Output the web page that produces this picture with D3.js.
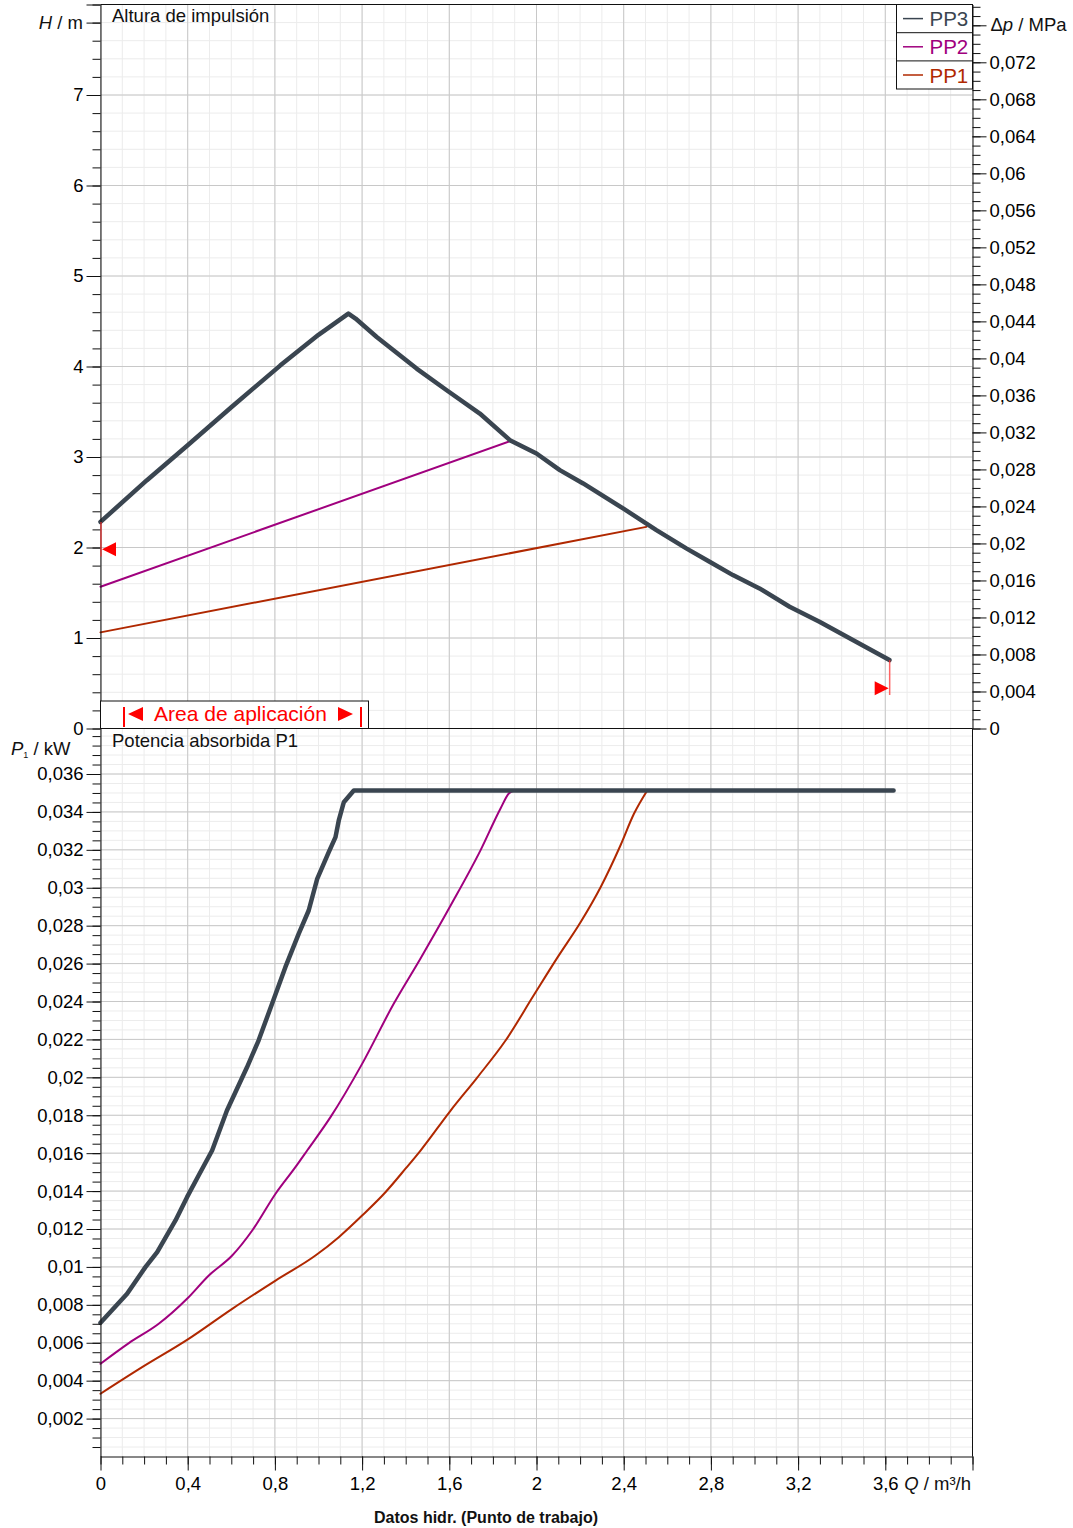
<!DOCTYPE html>
<html>
<head>
<meta charset="utf-8">
<script src="https://cdn.jsdelivr.net/npm/d3@7"></script>
<style>
  body { margin: 0; background: #fff; }
  svg { font-family: "Liberation Sans", Arial, sans-serif; }
</style>
</head>
<body>
<svg id="chart" width="1073" height="1528"></svg>
<script>
// --- data ---
const qTicks = [0, 0.4, 0.8, 1.2, 1.6, 2, 2.4, 2.8, 3.2, 3.6];
const hTicks = [0, 1, 2, 3, 4, 5, 6, 7];
const dpTicks = [0, 0.004, 0.008, 0.012, 0.016, 0.02, 0.024, 0.028, 0.032, 0.036,
  0.04, 0.044, 0.048, 0.052, 0.056, 0.06, 0.064, 0.068, 0.072];
const pTicks = [0.002, 0.004, 0.006, 0.008, 0.01, 0.012, 0.014, 0.016, 0.018, 0.02,
  0.022, 0.024, 0.026, 0.028, 0.03, 0.032, 0.034, 0.036];

const seriesNames = ['PP3', 'PP2', 'PP1'];
const seriesColors = ['#3a4550', '#a0007e', '#b02800'];

// head H (m) vs Q (m3/h)
const pp3Head = [[0, 2.283], [0.213, 2.744], [0.4, 3.13], [0.6, 3.55], [0.824, 4.01], [1.0, 4.35],
  [1.137, 4.585], [1.17, 4.53], [1.267, 4.326], [1.45, 3.977], [1.588, 3.738], [1.74, 3.48],
  [1.878, 3.186], [2.0, 3.039], [2.107, 2.855], [2.214, 2.708], [2.397, 2.432], [2.55, 2.192],
  [2.687, 1.99], [2.794, 1.842], [2.901, 1.695], [3.023, 1.548], [3.161, 1.345], [3.298, 1.179],
  [3.451, 0.977], [3.619, 0.756]];
const pp2Head = [[0, 1.566], [1.878, 3.175]];
const pp1Head = [[0, 1.062], [2.504, 2.228]];

// power P1 (kW) vs Q (m3/h)
const pp3Power = [[0, 0.00705], [0.122, 0.00858], [0.206, 0.00999], [0.26, 0.01078], [0.344, 0.01245],
  [0.397, 0.01368], [0.45, 0.01482], [0.512, 0.01614], [0.58, 0.01825], [0.672, 0.02053],
  [0.725, 0.02194], [0.787, 0.02388], [0.848, 0.02581], [0.909, 0.02757], [0.955, 0.0288],
  [0.994, 0.03047], [1.047, 0.03188], [1.078, 0.03267], [1.093, 0.03355], [1.116, 0.03451],
  [1.162, 0.03513], [3.638, 0.03513]];
const pp2Power = [[0, 0.00489], [0.13, 0.00598], [0.267, 0.007], [0.397, 0.00832], [0.497, 0.00955],
  [0.604, 0.0106], [0.696, 0.01192], [0.803, 0.01386], [0.894, 0.01526], [0.948, 0.01614],
  [1.055, 0.0179], [1.2, 0.02071], [1.345, 0.02388], [1.468, 0.02627], [1.606, 0.02906],
  [1.743, 0.03197], [1.835, 0.03418], [1.873, 0.03497], [1.896, 0.03513]];
const pp1Power = [[0, 0.00331], [0.191, 0.00471], [0.397, 0.00615], [0.604, 0.00779], [0.803, 0.00928],
  [0.986, 0.0106], [1.093, 0.01157], [1.2, 0.01271], [1.307, 0.01394], [1.399, 0.01518],
  [1.468, 0.01614], [1.606, 0.01825], [1.728, 0.01999], [1.858, 0.02194], [1.988, 0.02434],
  [2.095, 0.0263], [2.202, 0.02818], [2.294, 0.03003], [2.385, 0.03223], [2.447, 0.0339],
  [2.508, 0.03513]];

// application area limits: Q, marker H, line top H, line bottom H
const limitQ = [0, 3.62];
const limitH = [1.98, 0.444];
const limitTop = [2.283, 0.756];
const limitBottom = [1.9, 0.37];

const RHO_G = 0.009781; // MPa per m

// --- scales ---
const svg = d3.select('#chart');
const FONT = '"Liberation Sans", Arial, sans-serif';
const x = d3.scaleLinear().domain([0, 4]).range([100.5, 972.5]);
const yH = d3.scaleLinear().domain([0, 8]).range([728.5, 4.5]);
const yDp = d3.scaleLinear().domain([0, 8 * RHO_G]).range([728.5, 4.5]);
const yP = d3.scaleLinear().domain([0, 0.0384]).range([1456.5, 728.5]);

const fmt = (d) => String(+d.toFixed(4)).replace('.', ',');

const qMinor = d3.range(0, 41).map((i) => i / 10);
const hMinor = d3.range(0, 41).map((i) => +(i * 0.2).toFixed(2));
const dpMinor = d3.range(0, 79).map((i) => +(i * 0.001).toFixed(3));
const pMinor = d3.range(1, 77).map((i) => +(i * 0.0005).toFixed(4));

// --- grid ---
function grid(ys, minorY, majorY, top, bottom) {
  const g = svg.append('g');
  g.selectAll('.vmin').data(qMinor).enter().append('line')
    .attr('x1', (d) => x(d)).attr('x2', (d) => x(d)).attr('y1', top).attr('y2', bottom)
    .attr('stroke', '#ececec');
  g.selectAll('.hmin').data(minorY).enter().append('line')
    .attr('x1', x(0)).attr('x2', x(4)).attr('y1', (d) => ys(d)).attr('y2', (d) => ys(d))
    .attr('stroke', '#ececec');
  g.selectAll('.vmaj').data(qTicks).enter().append('line')
    .attr('x1', (d) => x(d)).attr('x2', (d) => x(d)).attr('y1', top).attr('y2', bottom)
    .attr('stroke', '#c8c8c8');
  g.selectAll('.hmaj').data(majorY).enter().append('line')
    .attr('x1', x(0)).attr('x2', x(4)).attr('y1', (d) => ys(d)).attr('y2', (d) => ys(d))
    .attr('stroke', '#c8c8c8');
}
grid(yH, hMinor, hTicks, yH(8), yH(0));
grid(yP, pMinor, pTicks, yP(0.0384), yP(0));

// --- curves ---
function drawCurve(data, ys, color, width, curve) {
  svg.append('path')
    .datum(data)
    .attr('fill', 'none')
    .attr('stroke', color)
    .attr('stroke-width', width)
    .attr('stroke-linejoin', 'round')
    .attr('stroke-linecap', 'round')
    .attr('d', d3.line().curve(curve).x((d) => x(d[0])).y((d) => ys(d[1])));
}
drawCurve(pp1Head, yH, seriesColors[2], 2, d3.curveLinear);
drawCurve(pp2Head, yH, seriesColors[1], 2, d3.curveLinear);
drawCurve(pp3Head, yH, seriesColors[0], 4.5, d3.curveLinear);
drawCurve(pp1Power, yP, seriesColors[2], 2, d3.curveMonotoneX);
drawCurve(pp2Power, yP, seriesColors[1], 2, d3.curveMonotoneX);
drawCurve(pp3Power, yP, seriesColors[0], 4.5, d3.curveLinear);

// --- axes ---
function styleAxis(g) {
  g.attr('font-size', 18.5).attr('font-family', FONT);
  g.selectAll('.tick line').attr('stroke', '#111');
  g.select('.domain').attr('stroke', '#111');
}
function addAxis(axis, tx, ty, minor) {
  const g = svg.append('g').attr('transform', `translate(${tx},${ty})`).call(axis).call(styleAxis);
  if (minor) g.select('.domain').remove();
  return g;
}

// top-left H
addAxis(d3.axisLeft(yH).tickValues(hMinor).tickSize(8).tickFormat('').tickSizeOuter(0), x(0), 0, true);
addAxis(d3.axisLeft(yH).tickValues([...hTicks, 7.8, 8]).tickSize(14).tickPadding(3).tickSizeOuter(0)
  .tickFormat((d) => (d === 7.8 || d === 8 ? '' : fmt(d))), x(0), 0, false);

// top-right Δp
addAxis(d3.axisRight(yDp).tickValues(dpMinor).tickSize(8).tickFormat('').tickSizeOuter(0), x(4), 0, true);
addAxis(d3.axisRight(yDp).tickValues([...dpTicks, 0.076]).tickSize(14).tickPadding(3).tickSizeOuter(0)
  .tickFormat((d) => (d === 0.076 ? '' : fmt(d))), x(4), 0, false);

// bottom-left P1
addAxis(d3.axisLeft(yP).tickValues(pMinor).tickSize(8).tickFormat('').tickSizeOuter(0), x(0), 0, true);
addAxis(d3.axisLeft(yP).tickValues(pTicks).tickSize(14).tickPadding(3).tickSizeOuter(0)
  .tickFormat(fmt), x(0), 0, false);

// bottom Q
addAxis(d3.axisBottom(x).tickValues(qMinor).tickSize(8).tickFormat('').tickSizeOuter(0), 0, yP(0), true);
addAxis(d3.axisBottom(x).tickValues([...qTicks, 4]).tickSize(14).tickPadding(6).tickSizeOuter(0)
  .tickFormat((d) => (d === 4 ? '' : fmt(d))), 0, yP(0), false);

// frame lines
const frame = svg.append('g').attr('stroke', '#111').attr('fill', 'none');
frame.append('line').attr('x1', x(0)).attr('x2', x(4)).attr('y1', yH(8)).attr('y2', yH(8));
frame.append('line').attr('x1', x(0)).attr('x2', x(4)).attr('y1', yH(0)).attr('y2', yH(0));
frame.append('line').attr('x1', x(4)).attr('x2', x(4)).attr('y1', yP(0.0384)).attr('y2', yP(0));

// --- application limits ---
const lim = svg.append('g');
limitQ.forEach((q, i) => {
  const lx = x(q) + (i === 0 ? 0.5 : 0);
  lim.append('line')
    .attr('x1', lx).attr('x2', lx)
    .attr('y1', yH(limitTop[i])).attr('y2', yH(limitBottom[i]))
    .attr('stroke', '#ff3030').attr('stroke-opacity', 0.75).attr('stroke-width', 1.5);
  const ty = yH(limitH[i]);
  const dir = i === 0 ? 1 : -1;
  lim.append('path')
    .attr('d', `M${lx + dir},${ty} L${lx + dir * 15},${ty - 7} L${lx + dir * 15},${ty + 7} Z`)
    .attr('fill', '#ff0000');
});

// area de aplicación box
const ab = svg.append('g');
ab.append('rect').attr('x', x(0)).attr('y', 701).attr('width', 268).attr('height', yH(0) - 701)
  .attr('fill', '#fff').attr('stroke', '#111');
[124, 361].forEach((bx) => {
  ab.append('line').attr('x1', bx).attr('x2', bx).attr('y1', 707).attr('y2', 727)
    .attr('stroke', '#ff0000').attr('stroke-width', 2);
});
ab.append('path').attr('d', 'M128,714 L143,707 L143,721 Z').attr('fill', '#ff0000');
ab.append('path').attr('d', 'M353,714 L338,707 L338,721 Z').attr('fill', '#ff0000');
ab.append('text').attr('x', 240.5).attr('y', 721).attr('text-anchor', 'middle')
  .attr('font-size', 21).attr('fill', '#ff0000').text('Area de aplicación');

// --- legend ---
const leg = svg.append('g');
leg.append('rect').attr('x', 896.5).attr('y', 4.5).attr('width', x(4) - 896.5).attr('height', 84.5)
  .attr('fill', '#fff').attr('stroke', '#111');
seriesNames.forEach((name, i) => {
  const cy = 4.5 + 28.2 * i + 14.1;
  if (i > 0) {
    leg.append('line').attr('x1', 896.5).attr('x2', x(4)).attr('y1', 4.5 + 28.2 * i).attr('y2', 4.5 + 28.2 * i)
      .attr('stroke', '#111');
  }
  leg.append('line').attr('x1', 903).attr('x2', 923).attr('y1', cy).attr('y2', cy)
    .attr('stroke', seriesColors[i]).attr('stroke-width', 1.5);
  leg.append('text').attr('x', 929.5).attr('y', cy + 7.5).attr('font-size', 20.5)
    .attr('fill', seriesColors[i]).text(name);
});

// --- labels ---
const lab = svg.append('g').attr('font-size', 18.5).attr('fill', '#111');
lab.append('text').attr('x', 112).attr('y', 22).text('Altura de impulsión');
lab.append('text').attr('x', 112).attr('y', 747).text('Potencia absorbida P1');

const hl = lab.append('text').attr('x', 83).attr('y', yH(7.8)).attr('dy', '0.32em').attr('text-anchor', 'end');
hl.append('tspan').attr('font-style', 'italic').text('H');
hl.append('tspan').text(' / m');

const dl = lab.append('text').attr('x', x(4) + 18).attr('y', yDp(0.076)).attr('dy', '0.32em');
dl.append('tspan').text('Δ');
dl.append('tspan').attr('font-style', 'italic').text('p');
dl.append('tspan').text(' / MPa');

const pl = lab.append('text').attr('x', 11).attr('y', 755);
pl.append('tspan').attr('font-style', 'italic').text('P');
pl.append('tspan').attr('font-size', 9).attr('dy', 3).text('1');
pl.append('tspan').attr('dy', -3).text('  / kW');

const ql = lab.append('text').attr('x', 971).attr('y', 1490).attr('text-anchor', 'end');
ql.append('tspan').attr('font-style', 'italic').text('Q');
ql.append('tspan').text(' / m³/h');

svg.append('text').attr('x', 486).attr('y', 1523).attr('text-anchor', 'middle')
  .attr('font-size', 16).attr('font-weight', 'bold').attr('fill', '#111')
  .text('Datos hidr. (Punto de trabajo)');
</script>
</body>
</html>
